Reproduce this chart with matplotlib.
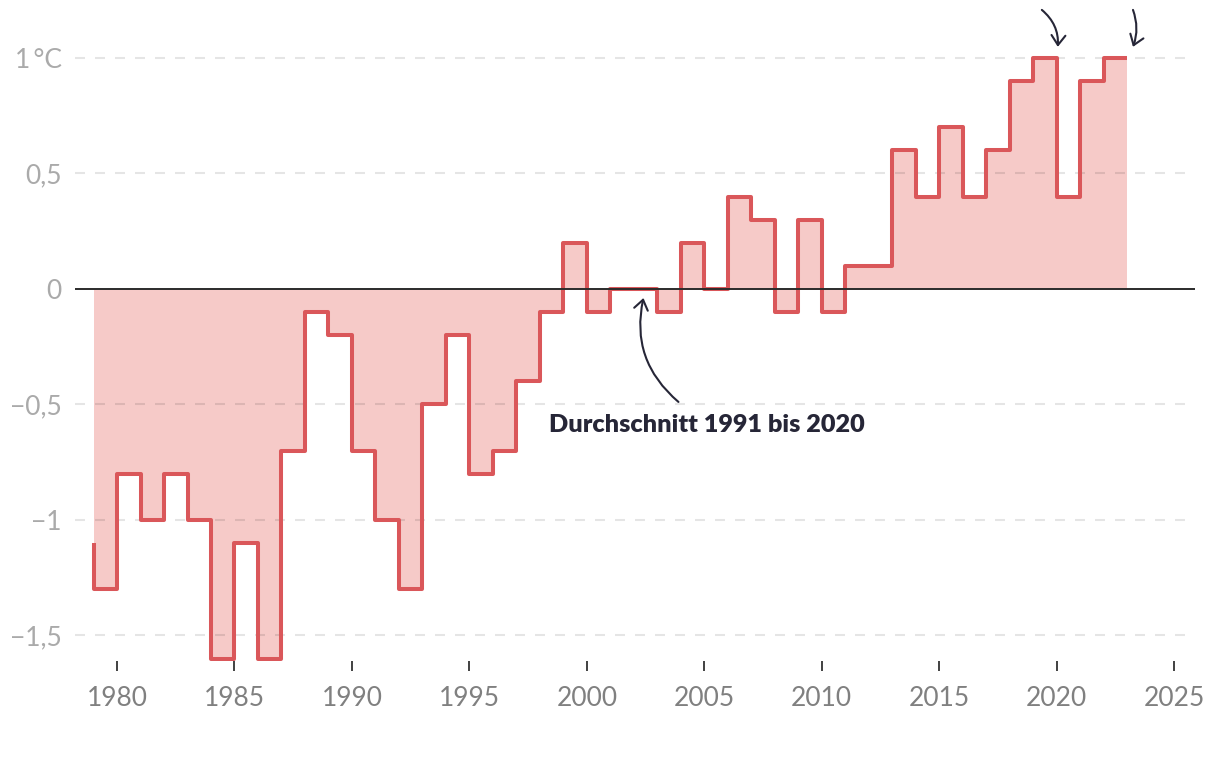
import matplotlib
matplotlib.use("Agg")
import matplotlib.pyplot as plt

plt.rcParams['font.family'] = ['Lato', 'DejaVu Sans']
plt.rcParams['lines.scale_dashes'] = False

# ---- data ----
years = list(range(1979, 2024))
anomaly = [-1.1, -1.3, -0.8, -1.0, -0.8, -1.0, -1.6, -1.1, -1.6, -0.7,
           -0.1, -0.2, -0.7, -1.0, -1.3, -0.5, -0.2, -0.8, -0.7, -0.4,
           -0.1, 0.2, -0.1, 0.0, 0.0, -0.1, 0.2, 0.0, 0.4, 0.3,
           -0.1, 0.3, -0.1, 0.1, 0.1, 0.6, 0.4, 0.7, 0.4, 0.6,
           0.9, 1.0, 0.4, 0.9, 1.0]
x_ticks = [1980, 1985, 1990, 1995, 2000, 2005, 2010, 2015, 2020, 2025]
y_ticks = [1.0, 0.5, 0.0, -0.5, -1.0, -1.5]
y_labels = ["1\u2009°C", "0,5", "0", "\u22120,5", "\u22121", "\u22121,5"]
avg_label = "Durchschnitt 1991 bis 2020"

LINE = '#da575a'
FILL = '#f6cac8'
DARK = '#262637'

fig = plt.figure(figsize=(12.2, 7.66), dpi=100)
ax = fig.add_axes([75/1220, 1 - 660.9/766, 1120/1220, 660.7/766])
ax.set_xlim(1978.21, 2025.89)
ax.set_ylim(-1.61, 1.25)

for s in ax.spines.values():
    s.set_visible(False)

ax.fill_between(years, anomaly, 0, step='pre', color=FILL, lw=0, zorder=1)

grid_vals = [v for v in y_ticks if v != 0]
ax.hlines(grid_vals, 1978.21, 2025.47, colors='black', alpha=0.1, lw=1.5,
          linestyles=(0, (7.2, 7.2)), zorder=2)

ax.step(years, anomaly, where='pre', color=LINE, lw=2.9,
        solid_joinstyle='round', solid_capstyle='butt', zorder=3)
ax.axhline(0, color='#2b2b2b', lw=1.4, zorder=4)

ax.set_xticks(x_ticks)
ax.set_xticklabels([str(t) for t in x_ticks])
ax.tick_params(axis='x', direction='out', length=7.2, width=1.3, color='#333333',
               labelsize=19, labelcolor='#808080', pad=11)
ax.set_yticks(y_ticks)
ax.set_yticklabels(y_labels)
ax.tick_params(axis='y', length=0, labelsize=19, labelcolor='#aaaaaa', pad=9.5)

arrow_kw = dict(arrowstyle='->,head_length=0.35,head_width=0.25', color=DARK,
                lw=1.5, mutation_scale=20, shrinkA=0, shrinkB=0)

ax.annotate('', xy=(2002.41, -0.039), xytext=(2003.9, -0.489),
            arrowprops=dict(connectionstyle='arc3,rad=-0.3', **arrow_kw),
            annotation_clip=False, zorder=5)
ax.text(1998.37, -0.589, avg_label, ha='left', va='center', fontsize=18.2,
        fontweight='heavy', color=DARK, zorder=5)

ax.annotate('', xy=(2020.05, 1.048), xytext=(2019.37, 1.208),
            arrowprops=dict(connectionstyle='arc3,rad=-0.25', **arrow_kw),
            annotation_clip=False, zorder=5)
ax.annotate('', xy=(2023.25, 1.048), xytext=(2023.25, 1.208),
            arrowprops=dict(connectionstyle='arc3,rad=-0.18', **arrow_kw),
            annotation_clip=False, zorder=5)

fig.savefig('out.png', dpi=100)
